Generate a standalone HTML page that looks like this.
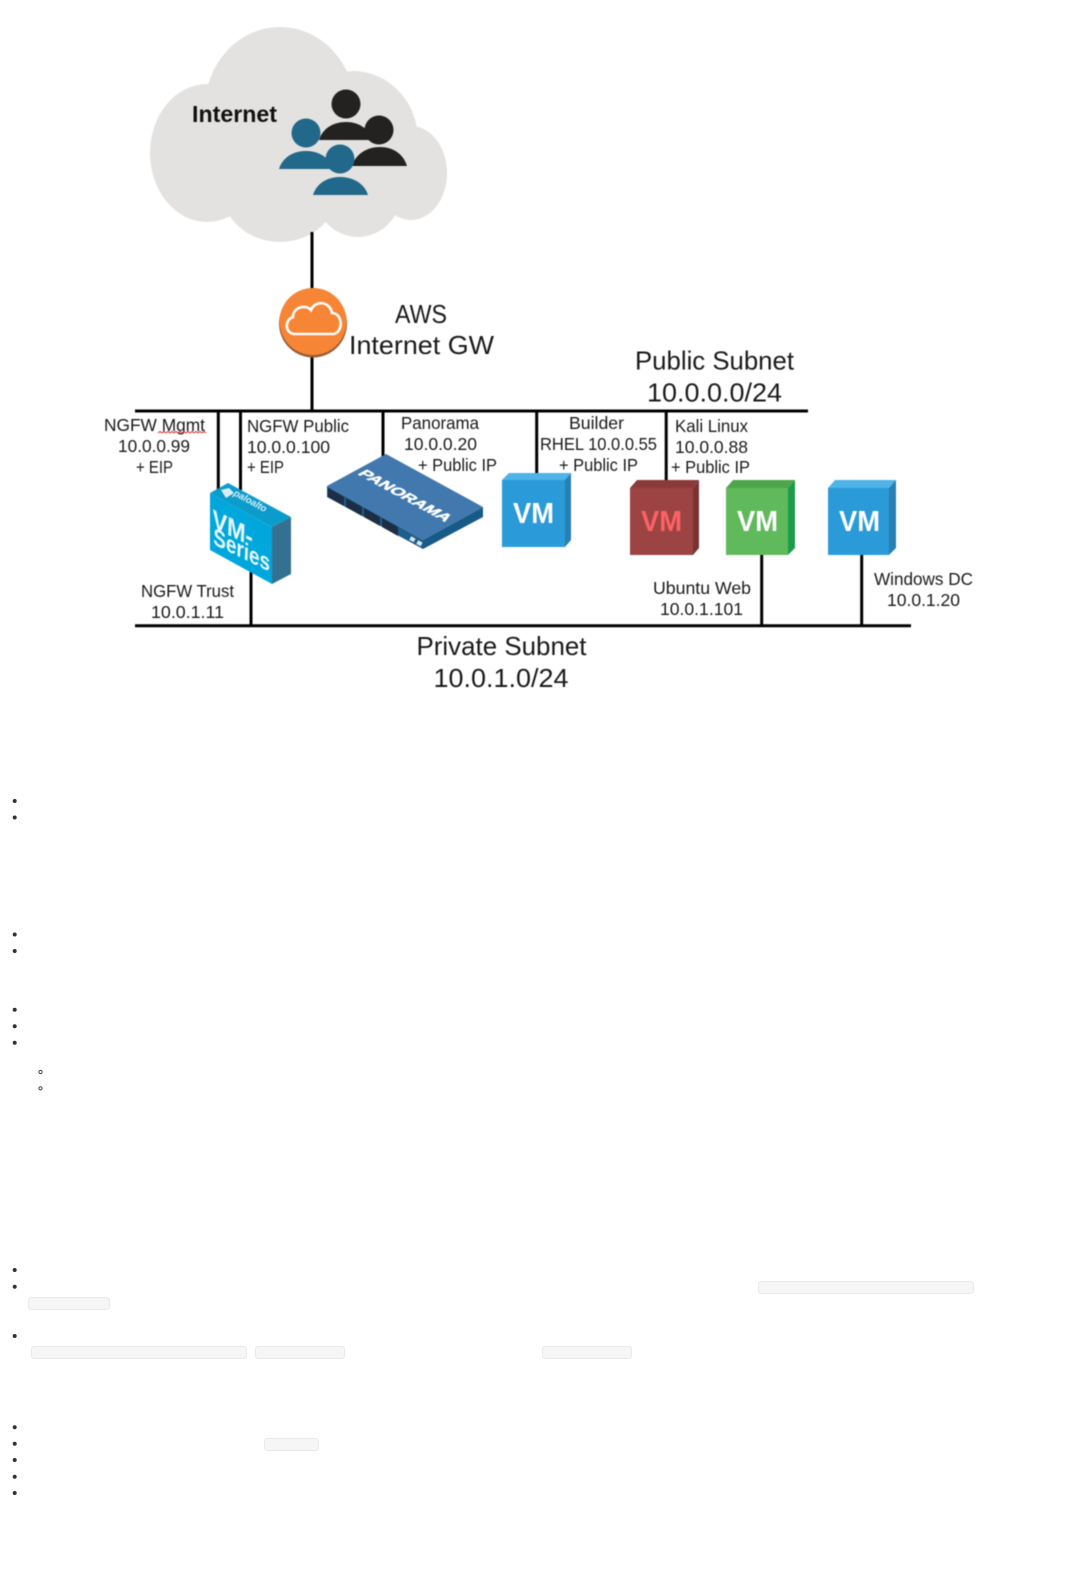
<!DOCTYPE html>
<html lang="en">
<head>
<meta charset="utf-8">
<title>Network diagram</title>
<style>
html,body{margin:0;padding:0;background:#fff;width:1076px;height:1570px;overflow:hidden}
svg{display:block}
text{font-family:"Liberation Sans",sans-serif;fill:#1a1a1a}
.s{font-size:17.5px}
.m{font-size:26px}
.vm{font-size:29px;font-weight:bold;fill:#fff}
.d{filter:blur(.4px)}
</style>
</head>
<body>
<svg width="1076" height="1570" viewBox="0 0 1076 1570" xmlns="http://www.w3.org/2000/svg">
<g class="d">
<!-- cloud -->
<g fill="#e3e2e1">
<ellipse cx="280" cy="108" rx="75" ry="81"/>
<ellipse cx="207" cy="153" rx="57" ry="69"/>
<ellipse cx="353" cy="140" rx="65" ry="69"/>
<ellipse cx="411" cy="173" rx="36" ry="47"/>
<ellipse cx="280" cy="190" rx="58" ry="52"/>
<ellipse cx="358" cy="190" rx="44" ry="47"/>
<rect x="200" y="130" width="200" height="70"/>
</g>
<text x="192" y="122" font-size="23" font-weight="bold" textLength="85" lengthAdjust="spacingAndGlyphs" style="fill:#111">Internet</text>
<!-- people -->
<g fill="#232220">
<circle cx="346" cy="104" r="14.5"/>
<path d="M319 140C323 127 335 122 346 122C357 122 368 127 373 140Z"/>
<circle cx="379" cy="130" r="14.5"/>
<path d="M352 166C356 153 368 147 380 147C392 147 403 153 407 166Z"/>
</g>
<g fill="#21688a">
<circle cx="306" cy="133" r="14.5"/>
<path d="M279 169C283 156 295 151 306 151C317 151 329 156 333 169Z"/>
<circle cx="340" cy="159" r="14.5"/>
<path d="M313 195C317 182 329 177 340 177C351 177 364 182 368 195Z"/>
</g>
<!-- lines -->
<g stroke="#000" stroke-width="3" fill="none">
<path d="M312 232V290M312 355V411"/>
<path d="M135 411H808"/>
<path d="M218.3 411V490M240.5 411V490M383 411V458M536.7 411V476M666.2 411V483"/>
<path d="M135 625.7H911"/>
<path d="M251 572V625M761.7 553V625M861.7 553V625"/>
</g>
<!-- AWS gateway -->
<circle cx="313" cy="323.5" r="34" fill="#9a5b33"/>
<circle cx="313" cy="321.5" r="33.5" fill="#f68536"/>
<path d="M295 334C285 334 284 320 293 317C293 307 306 304 311 310C315 300 330 301 332 313C343 313 344 334 332 334Z" fill="none" stroke="#fff" stroke-width="2.6"/>
<text x="395" y="323" class="m" textLength="52" lengthAdjust="spacingAndGlyphs">AWS</text>
<text x="349" y="354" class="m" textLength="145" lengthAdjust="spacingAndGlyphs">Internet GW</text>
<text x="635" y="369.5" class="m" textLength="159" lengthAdjust="spacingAndGlyphs">Public Subnet</text>
<text x="647" y="401.5" class="m" textLength="135" lengthAdjust="spacingAndGlyphs">10.0.0.0/24</text>
<text x="416.5" y="655" class="m" textLength="170" lengthAdjust="spacingAndGlyphs">Private Subnet</text>
<text x="433.5" y="687" class="m" textLength="135" lengthAdjust="spacingAndGlyphs">10.0.1.0/24</text>
<!-- small labels -->
<g>
<text class="s" x="104" y="431" textLength="101" lengthAdjust="spacingAndGlyphs">NGFW Mgmt</text>
<text class="s" x="118" y="452" textLength="72" lengthAdjust="spacingAndGlyphs">10.0.0.99</text>
<text class="s" x="136" y="473" textLength="37" lengthAdjust="spacingAndGlyphs">+ EIP</text>
<text class="s" x="247" y="432" textLength="102" lengthAdjust="spacingAndGlyphs">NGFW Public</text>
<text class="s" x="247" y="453" textLength="83" lengthAdjust="spacingAndGlyphs">10.0.0.100</text>
<text class="s" x="247" y="473" textLength="37" lengthAdjust="spacingAndGlyphs">+ EIP</text>
<text class="s" x="401" y="429" textLength="78" lengthAdjust="spacingAndGlyphs">Panorama</text>
<text class="s" x="404" y="450" textLength="73" lengthAdjust="spacingAndGlyphs">10.0.0.20</text>
<text class="s" x="418" y="471" textLength="79" lengthAdjust="spacingAndGlyphs">+ Public IP</text>
<text class="s" x="141" y="597" textLength="93" lengthAdjust="spacingAndGlyphs">NGFW Trust</text>
<text class="s" x="151" y="618" textLength="73" lengthAdjust="spacingAndGlyphs">10.0.1.11</text>
<text class="s" x="569" y="429" textLength="55" lengthAdjust="spacingAndGlyphs">Builder</text>
<text class="s" x="540" y="450" textLength="117" lengthAdjust="spacingAndGlyphs">RHEL 10.0.0.55</text>
<text class="s" x="559" y="471" textLength="79" lengthAdjust="spacingAndGlyphs">+ Public IP</text>
<text class="s" x="675" y="432" textLength="73" lengthAdjust="spacingAndGlyphs">Kali Linux</text>
<text class="s" x="675" y="453" textLength="73" lengthAdjust="spacingAndGlyphs">10.0.0.88</text>
<text class="s" x="671" y="473" textLength="79" lengthAdjust="spacingAndGlyphs">+ Public IP</text>
<text class="s" x="653" y="594" textLength="98" lengthAdjust="spacingAndGlyphs">Ubuntu Web</text>
<text class="s" x="660" y="615" textLength="83" lengthAdjust="spacingAndGlyphs">10.0.1.101</text>
<text class="s" x="874" y="585" textLength="99" lengthAdjust="spacingAndGlyphs">Windows DC</text>
<text class="s" x="887" y="606" textLength="73" lengthAdjust="spacingAndGlyphs">10.0.1.20</text>
</g>
<path d="M158 433l2 -1.5 2 1.5 2 -1.5 2 1.5 2 -1.5 2 1.5 2 -1.5 2 1.5 2 -1.5 2 1.5 2 -1.5 2 1.5 2 -1.5 2 1.5 2 -1.5 2 1.5 2 -1.5 2 1.5 2 -1.5 2 1.5 2 -1.5 2 1.5 2 -1.5 2 1.5" fill="none" stroke="#d4392f" stroke-width="1"/>
<!-- VM-Series -->
<polygon points="210,493 228,483 291,517 272,527" fill="#0c9ccb"/>
<polygon points="210,493 272,527 272,584 210,550" fill="#00a7dc"/>
<polygon points="272,527 291,517 291,574 272,584" fill="#347191"/>
<polygon points="221,490 229,488 234,493 226,498" fill="#d8eef7"/>
<text transform="matrix(.88 .48 -.48 .88 233 495)" font-size="9.5" font-style="italic" font-weight="bold" textLength="36" lengthAdjust="spacingAndGlyphs" style="fill:#d8eef7">paloalto</text>
<text transform="matrix(.9 .44 -.04 1 212 527)" font-size="26" font-weight="bold" textLength="45" lengthAdjust="spacingAndGlyphs" style="fill:#e8f7fc">VM-</text>
<text transform="matrix(.9 .44 -.04 1 213 544)" font-size="24" font-weight="bold" textLength="63" lengthAdjust="spacingAndGlyphs" style="fill:#e8f7fc">Series</text>
<!-- Panorama -->
<polygon points="327,486 423,540 423,549 327,497" fill="#1e5d8c"/>
<polygon points="423,540 483,507 483,517 423,549" fill="#175a87"/>
<polygon points="327,486 386,454 483,507 423,540" fill="#4178ae"/>
<g fill="#1d2d44">
<polygon points="328,488 344,497 344,506 328,497"/>
<polygon points="346,498 362,507 362,516 346,507"/>
<polygon points="364,508 380,517 380,526 364,517"/>
<polygon points="382,518 398,527 398,536 382,527"/>
</g>
<rect x="410" y="537" width="5" height="4" fill="#dfe6ec" transform="rotate(28 412 539)"/>
<rect x="417" y="541" width="5" height="4" fill="#dfe6ec" transform="rotate(28 419 543)"/>
<text transform="matrix(.88 .48 -.88 .48 357 474)" font-size="15" font-weight="bold" textLength="100" lengthAdjust="spacingAndGlyphs" stroke="#fff" stroke-width=".5" style="fill:#fff">PANORAMA</text>
<!-- VM cubes -->
<polygon points="502,480 509,473 571,473 565,480" fill="#4eb4e8"/>
<polygon points="565,480 571,473 571,540 565,547" fill="#2780b3"/>
<rect x="502" y="480" width="63" height="67" fill="#2a9ad8"/>
<text class="vm" x="513" y="523" textLength="41" lengthAdjust="spacingAndGlyphs">VM</text>
<polygon points="630,488 637,480 699,480 693,488" fill="#8a3a3b"/>
<polygon points="693,488 699,480 699,548 693,555" fill="#7a3233"/>
<rect x="630" y="488" width="63" height="67" fill="#9c4343"/>
<text class="vm" x="641" y="531" textLength="41" lengthAdjust="spacingAndGlyphs" style="fill:#fb6264">VM</text>
<polygon points="726,488 733,480 795,480 788,488" fill="#4ea64a"/>
<polygon points="788,488 795,480 795,548 788,555" fill="#1b9c4b"/>
<rect x="726" y="488" width="62" height="67" fill="#60ba5c"/>
<text class="vm" x="737" y="531" textLength="41" lengthAdjust="spacingAndGlyphs">VM</text>
<polygon points="828,488 835,480 896,480 889,488" fill="#4eb4e8"/>
<polygon points="889,488 896,480 896,548 889,555" fill="#2780b3"/>
<rect x="828" y="488" width="61" height="67" fill="#2a9ad8"/>
<text class="vm" x="839" y="531" textLength="41" lengthAdjust="spacingAndGlyphs">VM</text>
</g>
<!-- bullets -->
<g fill="#333">
<circle cx="14.7" cy="801" r="2"/><circle cx="14.7" cy="817.5" r="2"/>
<circle cx="14.7" cy="934.5" r="2"/><circle cx="14.7" cy="951" r="2"/>
<circle cx="14.7" cy="1009.7" r="2"/><circle cx="14.7" cy="1026.3" r="2"/><circle cx="14.7" cy="1042.7" r="2"/>
<circle cx="14.7" cy="1270" r="2"/><circle cx="14.7" cy="1286.7" r="2"/><circle cx="14.7" cy="1336" r="2"/>
<circle cx="14.7" cy="1427.3" r="2"/><circle cx="14.7" cy="1443.7" r="2"/><circle cx="14.7" cy="1460" r="2"/><circle cx="14.7" cy="1476.7" r="2"/><circle cx="14.7" cy="1493" r="2"/>
</g>
<g fill="none" stroke="#444" stroke-width="1">
<circle cx="40.5" cy="1072" r="1.6"/><circle cx="40.5" cy="1088.3" r="1.6"/>
</g>
<!-- code boxes -->
<g fill="#f6f6f6" stroke="#e9e9e9" stroke-width="1">
<rect x="758.5" y="1281.5" width="215" height="12" rx="3"/>
<rect x="28.5" y="1297.5" width="81" height="12" rx="3"/>
<rect x="31.5" y="1346.5" width="215" height="12" rx="3"/>
<rect x="255.5" y="1346.5" width="89" height="12" rx="3"/>
<rect x="542.5" y="1346.5" width="89" height="12" rx="3"/>
<rect x="264.5" y="1438.5" width="54" height="12" rx="3"/>
</g>
</svg>
</body>
</html>
